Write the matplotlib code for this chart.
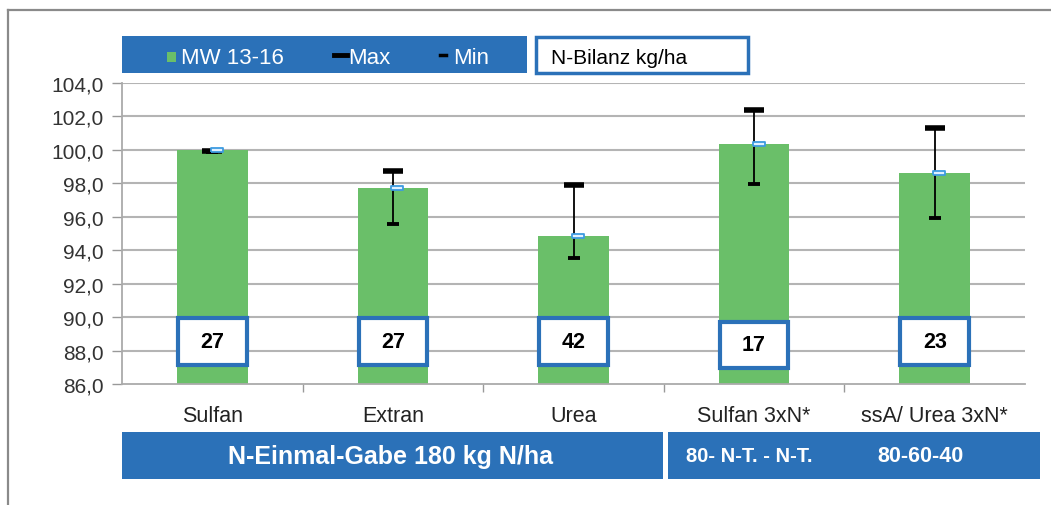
import matplotlib
matplotlib.use("Agg")
import matplotlib.pyplot as plt
from matplotlib.patches import Rectangle
from matplotlib.lines import Line2D

plt.rcParams['font.family'] = ['Liberation Sans', 'DejaVu Sans']

categories = ["Sulfan", "Extran", "Urea", "Sulfan 3xN*", "ssA/ Urea 3xN*"]
mw_values = [100.0, 97.7, 94.85, 100.35, 98.6]
max_values = [99.95, 98.75, 97.9, 102.4, 101.3]
min_values = [99.9, 95.55, 93.55, 97.95, 95.95]
n_bilanz = [27, 27, 42, 17, 23]
yticks = [86, 88, 90, 92, 94, 96, 98, 100, 102, 104]
group_labels = ["N-Einmal-Gabe 180 kg N/ha", "80- N-T. - N-T.", "80-60-40"]

W, H = 1051, 506
fig = plt.figure(figsize=(W / 100, H / 100), dpi=100)

def fx(px):
    return px / W

def fy(py):
    return 1 - py / H

GREEN = "#6abf69"
BLUE = "#2b71b8"
GRID = "#b4b4b4"

# outer frame
fig.add_artist(Line2D([fx(8), 1.0], [fy(11), fy(11)], color="#8a8a8a", lw=1.6))
fig.add_artist(Line2D([fx(8), fx(8)], [fy(11), 0.0], color="#8a8a8a", lw=1.6))

ax = fig.add_axes([fx(122), fy(385), fx(1025) - fx(122), fy(84) - fy(385)])
x = list(range(len(categories)))
ax.set_xlim(-0.5, len(categories) - 0.5)
ax.set_ylim(86, 104)

for yt in yticks[1:]:
    ax.axhline(yt, color=GRID, lw=1.5, zorder=0)

ax.bar(x, [v - 86 for v in mw_values], bottom=86, width=0.39, color=GREEN, zorder=2)

# error bars
ax.vlines(x, min_values, max_values, color="black", lw=1.3, zorder=3)
ax.plot(x, max_values, ls="none", marker="_", ms=15, mew=4, color="black", zorder=4)
ax.plot(x, min_values, ls="none", marker="_", ms=9, mew=2.8, color="black", zorder=4)
# mean markers
rect_marker = [(-2, -0.8), (2, -0.8), (2, 0.8), (-2, 0.8), (-2, -0.8)]
ax.plot([xi + 0.025 for xi in x], mw_values, ls="none", marker=rect_marker, ms=8,
        mfc="#dff0ff", mec="#3d9be0", mew=1.3, zorder=5)

# N-Bilanz boxes
box_bottoms = [87.15, 87.15, 87.15, 86.95, 87.15]
for xi, val, bb in zip(x, n_bilanz, box_bottoms):
    ax.add_patch(Rectangle((xi - 0.19, bb), 0.38, 2.78, facecolor="white",
                           edgecolor=BLUE, lw=3, zorder=6))
    ax.text(xi, bb + 1.39, str(val), ha="center", va="center", fontsize=15.5,
            fontweight="bold", color="black", zorder=7)

ax.set_yticks(yticks)
ax.set_yticklabels([f"{v:.1f}".replace(".", ",") for v in yticks], fontsize=15, color="#333333")
ax.set_xticks(x)
ax.set_xticklabels(categories, fontsize=15.5, color="#222222")
ax.set_xticks([i + 0.5 for i in range(len(categories) - 1)], minor=True)
ax.tick_params(axis="x", which="major", length=0, pad=15)
ax.tick_params(axis="x", which="minor", length=6, color="#999999", width=1)
ax.tick_params(axis="y", length=7, color="#999999", width=1, pad=6)
for s in ["top", "right"]:
    ax.spines[s].set_visible(False)
for s in ["left", "bottom"]:
    ax.spines[s].set_color("#aaaaaa")
    ax.spines[s].set_linewidth(1.3)

# legend banner
fig.add_artist(Rectangle((fx(122), fy(74)), fx(527) - fx(122), fy(37) - fy(74),
                         transform=fig.transFigure, facecolor=BLUE, edgecolor="none"))
ly = fy(58)
fig.add_artist(Rectangle((fx(167), fy(63)), fx(9), fy(53) - fy(63),
                         transform=fig.transFigure, facecolor=GREEN, edgecolor="none"))
fig.text(fx(181), ly, "MW 13-16", color="white", fontsize=16, va="center")
fig.add_artist(Line2D([fx(334), fx(347)], [fy(56), fy(56)], color="black", lw=3.5))
fig.text(fx(348), ly, "Max", color="white", fontsize=16, va="center")
fig.add_artist(Line2D([fx(440), fx(446)], [fy(56), fy(56)], color="black", lw=2.5))
fig.text(fx(453), ly, "Min", color="white", fontsize=16, va="center")

fig.add_artist(Rectangle((fx(536), fy(74)), fx(748) - fx(536), fy(38) - fy(74),
                         transform=fig.transFigure, facecolor="white", edgecolor=BLUE, lw=2.5))
fig.text(fx(551), fy(59), "N-Bilanz kg/ha", color="black", fontsize=15, va="center")

# bottom group banners
fig.add_artist(Rectangle((fx(122), fy(480)), fx(663) - fx(122), fy(433) - fy(480),
                         transform=fig.transFigure, facecolor=BLUE, edgecolor="none"))
fig.add_artist(Rectangle((fx(668), fy(480)), fx(1040) - fx(668), fy(433) - fy(480),
                         transform=fig.transFigure, facecolor=BLUE, edgecolor="none"))
fig.text(fx(391), fy(457), group_labels[0], color="white", fontsize=18,
         fontweight="bold", ha="center", va="center")
fig.text(fx(749), fy(457), group_labels[1], color="white", fontsize=14.5,
         fontweight="bold", ha="center", va="center")
fig.text(fx(920), fy(457), group_labels[2], color="white", fontsize=15.5,
         fontweight="bold", ha="center", va="center")

fig.savefig("out.png", dpi=100, facecolor="white")
